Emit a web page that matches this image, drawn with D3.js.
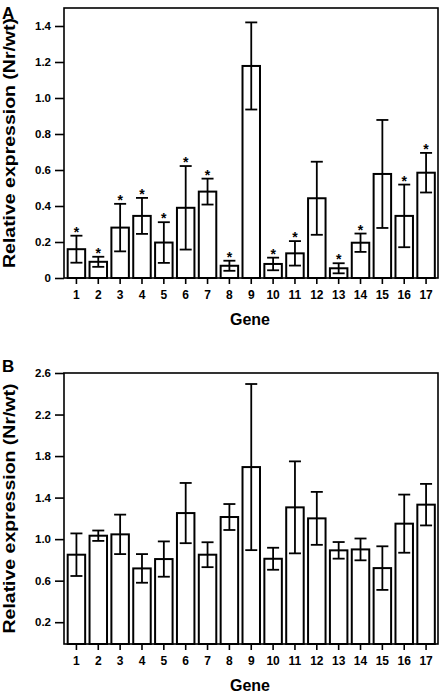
<!DOCTYPE html>
<html>
<head>
<meta charset="utf-8">
<script src="https://cdn.jsdelivr.net/npm/d3@7/dist/d3.min.js"></script>
<style>
  html, body { margin: 0; padding: 0; background: #fff; }
  svg { display: block; font-family: "Liberation Sans", Arial, Helvetica, sans-serif; }
</style>
</head>
<body>
<svg id="chart" width="442" height="695"></svg>
<script>
// ---- data ----
const genes = ["1","2","3","4","5","6","7","8","9","10","11","12","13","14","15","16","17"];
const valuesA = [0.16, 0.09, 0.28, 0.345, 0.197, 0.39, 0.48, 0.068, 1.178, 0.078, 0.137, 0.443, 0.054, 0.196, 0.578, 0.345, 0.585];
const errorsA = [0.075, 0.028, 0.132, 0.1, 0.113, 0.232, 0.072, 0.028, 0.242, 0.035, 0.068, 0.203, 0.028, 0.051, 0.3, 0.174, 0.11];
const starsA = [true, true, true, true, true, true, true, true, false, true, true, false, true, true, false, true, true];
const ticksA = [0, 0.2, 0.4, 0.6, 0.8, 1.0, 1.2, 1.4];

const valuesB = [0.85, 1.033, 1.046, 0.718, 0.808, 1.251, 0.85, 1.213, 1.694, 0.811, 1.306, 1.2, 0.892, 0.901, 0.721, 1.149, 1.332];
const errorsB = [0.205, 0.05, 0.19, 0.138, 0.17, 0.29, 0.12, 0.125, 0.8, 0.106, 0.443, 0.255, 0.08, 0.105, 0.21, 0.28, 0.2];
const starsB = genes.map(() => false);
const ticksB = [0.2, 0.6, 1.0, 1.4, 1.8, 2.2, 2.6];

const yLabel = "Relative expression (Nr/wt)";
const xLabel = "Gene";

// ---- drawing ----
const svg = d3.select("#chart");
const fmt = d => d === 0 ? "0" : d3.format(".1f")(d);

function panel(opts) {
  const { letter, values, errors, stars, ticks, domain, top, bottom, letterY } = opts;
  const left = 64, right = 438;
  const g = svg.append("g");

  const x = d3.scaleBand().domain(genes).range([left + 1.5, right - 1]).paddingInner(0.2).paddingOuter(0.1);
  const y = d3.scaleLinear().domain(domain).range([bottom, top]);

  // frame
  g.append("rect")
    .attr("x", left).attr("y", top)
    .attr("width", right - left).attr("height", bottom - top)
    .attr("fill", "none").attr("stroke", "#000").attr("stroke-width", 1.6);

  // y axis
  const ya = g.append("g").attr("transform", `translate(${left},0)`)
    .call(d3.axisLeft(y).tickValues(ticks).tickFormat(fmt).tickSize(9).tickPadding(4));
  ya.select(".domain").remove();
  ya.selectAll(".tick line").attr("stroke", "#000").attr("stroke-width", 1.6);
  ya.selectAll(".tick text").attr("fill", "#000").attr("font-size", 11.5).attr("font-weight", "bold")
    .attr("font-family", "'Liberation Sans', Arial, sans-serif");

  // x axis
  const xa = g.append("g").attr("transform", `translate(0,${bottom})`)
    .call(d3.axisBottom(x).tickSize(6).tickPadding(6));
  xa.select(".domain").remove();
  xa.selectAll(".tick line").attr("stroke", "#000").attr("stroke-width", 1.6);
  xa.selectAll(".tick text").attr("fill", "#000").attr("font-size", 12).attr("font-weight", "bold")
    .attr("font-family", "'Liberation Sans', Arial, sans-serif");

  const base = y(domain[0]);
  const data = genes.map((k, i) => ({ k, v: values[i], e: errors[i], s: stars[i] }));

  // bars
  g.append("g").selectAll("rect").data(data).join("rect")
    .attr("x", d => x(d.k)).attr("width", x.bandwidth())
    .attr("y", d => y(d.v)).attr("height", d => base - y(d.v))
    .attr("fill", "#fff").attr("stroke", "#000").attr("stroke-width", 2);

  // error bars
  const cap = 6;
  const eb = g.append("g").attr("stroke", "#000").attr("stroke-width", 1.8);
  data.forEach(d => {
    const cx = x(d.k) + x.bandwidth() / 2;
    const y1 = y(d.v + d.e), y0 = y(d.v - d.e);
    eb.append("line").attr("x1", cx).attr("x2", cx).attr("y1", y1).attr("y2", y0);
    eb.append("line").attr("x1", cx - cap).attr("x2", cx + cap).attr("y1", y1).attr("y2", y1);
    eb.append("line").attr("x1", cx - cap).attr("x2", cx + cap).attr("y1", y0).attr("y2", y0);
  });

  // stars
  g.append("g").selectAll("text").data(data.filter(d => d.s)).join("text")
    .attr("x", d => x(d.k) + x.bandwidth() / 2)
    .attr("y", d => y(d.v + d.e) + 1)
    .attr("text-anchor", "middle")
    .attr("font-size", 14).attr("font-weight", "bold")
    .text("*");

  // panel letter
  g.append("text").attr("x", 2).attr("y", letterY)
    .attr("font-size", 17).attr("font-weight", "bold").text(letter);

  // y label
  const cy = (top + bottom) / 2;
  g.append("text")
    .attr("transform", `translate(15,${cy}) rotate(-90)`)
    .attr("text-anchor", "middle")
    .attr("font-size", 16).attr("font-weight", "bold")
    .attr("textLength", 250).attr("lengthAdjust", "spacingAndGlyphs")
    .text(yLabel);

  // x label
  g.append("text")
    .attr("x", 250).attr("y", bottom + 47)
    .attr("text-anchor", "middle")
    .attr("font-size", 16).attr("font-weight", "bold")
    .text(xLabel);
}

panel({ letter: "A", values: valuesA, errors: errorsA, stars: starsA, ticks: ticksA,
        domain: [0, 1.5], top: 8, bottom: 278, letterY: 19 });
panel({ letter: "B", values: valuesB, errors: errorsB, stars: starsB, ticks: ticksB,
        domain: [-0.01, 2.6], top: 373, bottom: 644, letterY: 372 });
</script>
</body>
</html>
